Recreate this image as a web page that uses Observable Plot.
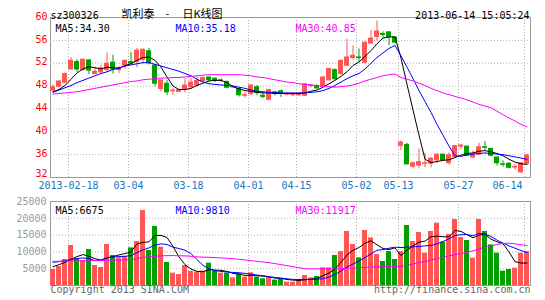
<!DOCTYPE html>
<html><head><meta charset="utf-8">
<script src="https://cdn.jsdelivr.net/npm/d3@7"></script>
<script src="https://cdn.jsdelivr.net/npm/@observablehq/plot@0.6"></script>
<style>
body{margin:0;background:#fff;}
#chart{position:relative;width:545px;height:300px;overflow:hidden;background:#fff;}
#chart svg{position:absolute;left:0;overflow:visible;}
</style></head><body><div id="chart"></div>
<script>
// ---- data ----
const dates = ["2013-02-06","2013-02-07","2013-02-08","2013-02-18","2013-02-19","2013-02-20","2013-02-21","2013-02-22","2013-02-25","2013-02-26",
"2013-02-27","2013-02-28","2013-03-01","2013-03-04","2013-03-05","2013-03-06","2013-03-07","2013-03-08","2013-03-11","2013-03-12",
"2013-03-13","2013-03-14","2013-03-15","2013-03-18","2013-03-19","2013-03-20","2013-03-21","2013-03-22","2013-03-25","2013-03-26",
"2013-03-27","2013-03-28","2013-03-29","2013-04-01","2013-04-02","2013-04-03","2013-04-08","2013-04-09","2013-04-10","2013-04-11",
"2013-04-12","2013-04-15","2013-04-16","2013-04-17","2013-04-18","2013-04-19","2013-04-22","2013-04-23","2013-04-24","2013-04-25",
"2013-04-26","2013-05-02","2013-05-03","2013-05-06","2013-05-07","2013-05-08","2013-05-09","2013-05-10","2013-05-13","2013-05-14",
"2013-05-15","2013-05-16","2013-05-17","2013-05-20","2013-05-21","2013-05-22","2013-05-23","2013-05-24","2013-05-27","2013-05-28",
"2013-05-29","2013-05-30","2013-05-31","2013-06-03","2013-06-04","2013-06-05","2013-06-06","2013-06-07","2013-06-13","2013-06-14"];
const open = [47.2,47.9,48.6,50.9,52.2,50.8,52.5,50.1,50.4,50.8, 52.1,50.8,51.6,52.2,52.2,52.6,54.1,51.6,47.5,48.4,
 47.1,47.0,47.5,47.8,48.1,48.8,49.5,49.3,48.95,48.7, 47.75,47.5,46.3,46.6,47.8,46.3,45.6,46.9,47.1,46.5,
 46.4,46.4,46.3,48.0,48.0,48.0,49.0,50.8,50.1,51.55, 52.9,53.0,52.1,55.45,56.6,57.1,57.4,56.5,37.55,37.7,
 33.9,34.1,34.4,34.4,35.0,36.0,34.5,35.55,37.4,37.4, 35.5,36.0,37.3,37.0,35.5,34.3,34.4,33.75,32.9,34.4];
const high = [48.2,49.0,50.3,53.0,52.6,52.7,52.6,51.3,51.6,53.8, 53.4,51.4,52.6,53.9,54.6,54.5,54.6,51.6,49.0,49.0,
 47.5,47.4,49.3,49.3,49.6,49.6,49.6,49.4,49.4,48.9, 48.0,47.6,46.9,48.2,48.1,46.9,47.4,47.0,47.3,46.9,
 46.8,46.8,48.4,48.3,48.2,49.7,51.1,51.0,52.6,56.2, 55.05,54.5,55.7,57.7,59.4,57.5,57.5,56.6,38.4,38.0,
 34.7,37.0,36.25,35.5,36.1,36.1,36.3,37.6,37.8,37.5, 36.7,38.0,38.3,37.1,35.6,34.9,34.6,34.3,34.6,36.0];
const low = [46.9,47.7,48.4,50.8,50.4,50.6,50.0,50.0,50.1,50.4, 50.1,50.2,50.9,51.7,51.2,51.9,51.7,47.9,47.0,46.35,
 46.35,46.9,46.8,47.5,47.9,48.6,48.8,48.6,48.6,47.5, 47.6,46.1,45.9,46.4,46.3,45.8,45.4,46.3,46.0,46.3,
 46.2,46.2,46.2,47.7,47.4,47.9,48.9,49.0,49.9,51.4, 52.6,52.2,51.9,55.3,55.9,56.4,55.05,55.4,36.7,34.2,
 33.5,33.6,33.7,33.7,34.5,34.9,34.2,35.4,36.9,35.8, 35.3,35.9,36.7,35.6,34.0,33.8,33.5,33.3,32.65,34.2];
const close = [47.8,48.8,50.1,52.4,50.9,52.6,50.7,50.5,51.1,51.9, 50.9,51.1,52.4,51.95,54.2,54.35,52.0,48.4,49.0,46.9,
 47.2,47.3,48.1,48.6,48.9,49.4,49.0,48.9,49.05,47.7, 47.85,46.4,46.4,48.1,46.8,46.1,47.3,46.6,46.8,46.6,
 46.5,46.6,48.3,48.1,47.6,49.5,51.0,49.2,52.4,53.0, 53.3,52.9,55.6,56.3,57.55,56.95,56.6,55.6,38.1,34.3,
 34.5,34.7,34.5,35.3,36.0,35.0,35.9,37.5,37.6,35.85, 36.0,37.3,37.2,35.8,34.5,34.2,33.7,33.85,34.5,35.85];
const volume = [4760,5650,7740,11900,7940,7440,10700,5950,5360,12200, 8930,8230,8630,11200,13100,22300,10400,17560,11400,6850,
 3670,3270,5950,4170,4000,4300,6640,4270,3670,3670, 2280,3470,2480,3770,2480,1980,2480,1600,2000,990,
 990,1690,2980,2280,2680,5260,5260,8930,10100,16070, 12200,8230,16370,14190,9230,7140,10100,7740,10100,17860,
 13100,15770,9620,16070,18550,12900,15180,19640,14290,13390, 8130,19640,16070,12100,9620,4270,4760,5160,9620,10100];
const ma5 = [47.0,47.4,48.1,49.2,50.3,51.0,51.4,51.2,51.0,51.3, 51.2,51.1,51.6,51.9,52.5,53.0,53.1,52.5,51.3,49.6,
 48.0,47.4,47.4,47.6,48.1,48.5,48.9,49.0,49.0,48.6, 47.9,47.5,47.2,47.1,46.9,46.8,46.8,46.7,46.7,46.7,
 46.7,46.7,46.8,47.1,47.3,47.8,48.4,49.0,49.7,50.5, 51.6,52.2,53.2,54.2,55.4,56.4,56.6,56.6,52.9,48.3,
 43.8,39.4,35.2,34.6,34.8,35.0,35.1,35.5,35.9,36.2, 36.3,36.6,36.7,36.5,36.2,35.8,35.2,34.7,34.4,34.30];
const ma10 = [46.9,47.3,47.7,48.1,48.6,49.0,49.4,49.8,50.2,50.5, 50.9,51.2,51.5,51.7,51.9,52.1,52.1,51.8,51.5,51.2,
 50.9,50.6,50.2,49.8,49.2,48.7,48.4,48.3,48.2,48.1, 48.0,47.8,47.6,47.3,47.1,47.0,46.9,46.9,46.8,46.8,
 46.8,46.8,46.8,46.9,47.0,47.2,47.6,48.1,48.7,49.3, 49.8,50.2,51.0,52.0,53.0,53.8,54.6,55.1,53.3,51.3,
 49.3,47.2,45.3,43.4,41.3,39.4,37.5,35.8,35.7,35.9, 36.1,36.2,36.3,36.2,36.1,36.0,35.8,35.6,35.4,35.18];
const ma30 = [46.6,46.7,46.8,46.9,47.0,47.2,47.4,47.6,47.8,48.0, 48.2,48.4,48.6,48.8,48.9,49.1,49.2,49.3,49.4,49.4,
 49.5,49.5,49.6,49.7,49.8,49.9,50.0,50.0,50.0,50.0, 50.0,50.0,49.9,49.8,49.6,49.5,49.3,49.1,48.9,48.7,
 48.6,48.4,48.3,48.2,48.1,47.9,47.9,47.8,47.9,48.0, 48.2,48.5,48.9,49.2,49.5,49.8,50.0,50.1,49.5,49.2,
 48.9,48.5,48.1,47.6,47.2,46.8,46.5,46.2,45.9,45.6, 45.2,44.8,44.5,44.2,43.6,43.0,42.4,41.9,41.3,40.85];
const vma5 = [5600,6200,6900,7800,8600,9200,8700,8000,7500,8200, 8600,9100,9500,10000,12400,12800,13000,14900,14900,14300,
 11600,8500,6200,4900,4200,4100,4700,4600,4500,4200, 3600,3400,3000,3000,2900,2800,2600,2200,2100,1800,
 1600,1500,1700,1900,2100,2900,3700,4900,6900,9100, 10500,11300,12600,13300,12100,11000,10700,11200,8900,10500,
 11800,12900,13200,14500,14700,14500,14500,16400,16100,15100, 14200,15000,15200,13800,13000,12400,10000,7100,6700,6675];
const vma10 = [6900,7100,7400,7700,8000,8200,8000,7400,7600,8200, 8500,8600,8700,8900,9800,10600,11200,12000,12400,12200,
 11400,11000,10500,9500,7700,6000,5000,4400,4200,4000, 3900,3800,3600,3400,3100,2900,2600,2400,2200,2000,
 1800,1800,1800,1800,1900,2000,2500,3300,4300,5500, 6400,7300,8300,9400,10500,10700,11100,11400,11300,11400,
 11500,11600,11800,11900,12400,13100,13900,14900,15100,15200, 14800,15500,15300,14600,13500,12600,11800,11100,10400,9810];
const vma30 = [7200,7200,7250,7300,7300,7350,7400,7400,7450,7500, 7500,7550,7600,7650,8000,8400,8500,8700,8850,8900,
 8900,8850,8800,8700,8500,8450,8400,8300,8200,8100, 7950,7800,7600,7400,7200,7000,6800,6500,6200,5900,
 5600,5300,5000,4950,4950,4950,4950,4950,5000,5100, 5200,5300,5400,5500,5550,5600,5650,5650,5700,6000,
 6400,6800,7100,7600,8000,8400,8800,9200,9500,9900, 10300,10900,11400,11800,12200,12500,12600,12400,12100,11917];
const priceTicks = [32,36,40,44,48,52,56,60];
const volTicks = [5000,10000,15000,20000,25000];
const tickDates = ["2013-02-18","2013-03-04","2013-03-18","2013-04-01","2013-04-15","2013-05-02","2013-05-13","2013-05-27","2013-06-14"];
const tickLabels = ["2013-02-18","03-04","03-18","04-01","04-15","05-02","05-13","05-27","06-14"];
const stockCode = "sz300326";
const titleName = "凯利泰";
const titleKind = "日K线图";
const timeStamp = "2013-06-14 15:05:24";
const priceMaLabels = ["MA5:34.30","MA10:35.18","MA30:40.85"];
const volMaLabels = ["MA5:6675","MA10:9810","MA30:11917"];
const footLeft = "Copyright 2013 SINA.COM";
const footRight = "http://finance.sina.com.cn";

// ---- build ----
const RED = "#ff5555", GREEN = "#00a000";
const MA_COLORS = ["#000000", "#0000ff", "#ff00ff"];
const GRID = {stroke: "#b0b0b0", strokeDasharray: "1,2"};
const MONO = "DejaVu Sans Mono";
const CJK = "Noto Sans CJK SC";
const BW = 5 / 6;            // body width in slot units
const C = 5 / 12;            // centre offset in slot
const bars = dates.map((d, i) => ({i, d, o: open[i], h: high[i], l: low[i], c: close[i], v: volume[i],
  col: close[i] >= open[i] ? RED : GREEN}));
const tickIdx = tickDates.map(d => dates.indexOf(d));
const ticks = tickIdx.map((x, k) => ({x, label: tickLabels[k]}));
const xScale = {type: "linear", domain: [0, dates.length], axis: null};
const pts = arr => arr.map((v, i) => ({x: i + C, y: v}));
const maLines = arrs => arrs.map((a, k) => Plot.line(pts(a), {x: "x", y: "y", stroke: MA_COLORS[k], strokeWidth: 1}));
const maLabels = (labels, dy) => labels.map((t, k) => Plot.text([t], {text: d => d, frameAnchor: "top-left",
  textAnchor: "start", dx: 5 + 120 * k, dy, fill: MA_COLORS[k], fontFamily: MONO, fontSize: 10}));
const priceLabel = {frameAnchor: "left", textAnchor: "end", dx: -3, fill: "#ff0000", fontFamily: MONO, fontSize: 10};

const chart = document.getElementById("chart");

const price = Plot.plot({
  width: 545, height: 192, marginTop: 17, marginBottom: 15, marginLeft: 50, marginRight: 15,
  x: xScale, y: {domain: [32, 60], axis: null}, color: {type: "identity"},
  style: {fontFamily: MONO, fontSize: "10px", background: "transparent"},
  marks: [
    Plot.ruleY(priceTicks.filter(t => t > 32 && t < 60), GRID),
    Plot.ruleX(tickIdx, {x: d => d, ...GRID}),
    Plot.frame({stroke: "#999"}),
    Plot.ruleX(bars, {x: d => d.i + C, y1: "l", y2: "h", stroke: "col", strokeWidth: 1}),
    Plot.rect(bars, {x1: d => d.i, x2: d => d.i + BW, y1: "o", y2: "c", fill: "col", insetTop: -0.5, insetBottom: -0.5}),
    ...maLines([ma5, ma10, ma30]),
    ...maLabels(priceMaLabels, 7),
    Plot.text(priceTicks.slice(1), {y: d => d, text: d => String(d), dy: -1, ...priceLabel}),
    Plot.text(priceTicks.slice(0, 1), {y: d => d, text: d => String(d), dy: -4, ...priceLabel}),
    Plot.text(ticks.slice(0, -1), {x: "x", text: "label", frameAnchor: "bottom", dy: 11, fill: "#1578c0",
      fontFamily: MONO, fontSize: 10}),
    Plot.text(ticks.slice(-1), {x: "x", text: "label", frameAnchor: "bottom", dy: 11, dx: -2, textAnchor: "end",
      fill: "#1578c0", fontFamily: MONO, fontSize: 10}),
    Plot.text([stockCode], {text: d => d, frameAnchor: "top-left", textAnchor: "start", dy: -6, fill: "#000",
      fontFamily: MONO, fontSize: 10}),
    Plot.text([titleName], {text: d => d, frameAnchor: "top-left", textAnchor: "start", dx: 71, dy: -7, fill: "#000",
      fontFamily: CJK, fontSize: 11}),
    Plot.text(["-"], {text: d => d, frameAnchor: "top-left", textAnchor: "start", dx: 115, dy: -7, fill: "#000",
      fontFamily: CJK, fontSize: 11}),
    Plot.text([titleKind], {text: d => d, frameAnchor: "top-left", textAnchor: "start", dx: 132, dy: -7, fill: "#000",
      fontFamily: CJK, fontSize: 11}),
    Plot.text([timeStamp], {text: d => d, frameAnchor: "top-right", textAnchor: "end", dx: -1, dy: -6, fill: "#000",
      fontFamily: MONO, fontSize: 10})
  ]
});
price.style.top = "0px";
chart.appendChild(price);

const vol = Plot.plot({
  width: 545, height: 108, marginTop: 9, marginBottom: 15, marginLeft: 50, marginRight: 15,
  x: xScale, y: {domain: [0, 25000], axis: null}, color: {type: "identity"},
  style: {fontFamily: MONO, fontSize: "10px", background: "transparent"},
  marks: [
    Plot.ruleY(volTicks.filter(t => t < 25000), GRID),
    Plot.ruleX(tickIdx, {x: d => d, ...GRID}),
    Plot.frame({stroke: "#999"}),
    Plot.rect(bars, {x1: d => d.i, x2: d => d.i + BW, y1: 0, y2: "v", fill: "col"}),
    ...maLines([vma5, vma10, vma30]),
    ...maLabels(volMaLabels, 5),
    Plot.text(volTicks, {y: d => d, text: d => String(d), frameAnchor: "left", textAnchor: "end", dx: -4,
      fill: "#999", fontFamily: MONO, fontSize: 10}),
    Plot.text([footLeft], {text: d => d, frameAnchor: "bottom-left", textAnchor: "start", dy: 7, fill: "#666",
      fontFamily: MONO, fontSize: 10}),
    Plot.text([footRight], {text: d => d, frameAnchor: "bottom-right", textAnchor: "end", dy: 7, fill: "#666",
      fontFamily: MONO, fontSize: 10})
  ]
});
vol.style.top = "192px";
chart.appendChild(vol);
</script></body></html>
